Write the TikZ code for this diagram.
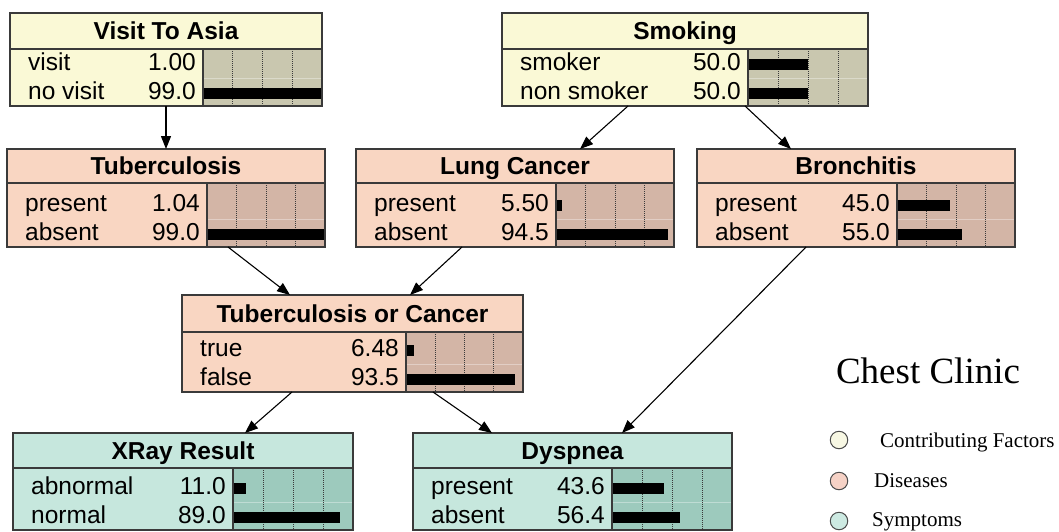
\documentclass[tikz,border=0pt]{standalone}
\usepackage{fontspec}
\setmainfont{Liberation Serif}
\newfontfamily\arialf{Liberation Sans}
\usetikzlibrary{arrows.meta}
\definecolor{cfFill}{HTML}{FAF9D6}
\definecolor{cfChart}{HTML}{C9C7AF}
\definecolor{disFill}{HTML}{F9D6C2}
\definecolor{disChart}{HTML}{D3B5A6}
\definecolor{symFill}{HTML}{C6E7DD}
\definecolor{symChart}{HTML}{9DCABD}
\definecolor{edgecol}{HTML}{3A3A3A}
\definecolor{cfLeg}{HTML}{F8F8E4}
\definecolor{disLeg}{HTML}{F6D2C6}
\definecolor{symLeg}{HTML}{CDEAE2}
\tikzset{
  boxframe/.style={draw=edgecol, line width=1.2pt, inner sep=0pt, outer sep=0pt},
  boxline/.style={draw=edgecol, line width=1.2pt},
  bngrid/.style={draw=edgecol, line width=0.6pt, dash pattern=on 1pt off 1pt},
  bnsep/.style={draw=white, opacity=0.35, line width=0.8pt},
  bnbar/.style={fill=black},
  titletext/.style={font=\arialf\bfseries\fontsize{24.5}{29}\selectfont, inner sep=0pt},
  rowtext/.style={font=\arialf\fontsize{24.5}{29}\selectfont, inner sep=0pt},
  bnconn/.style={draw=black, line width=1.1pt, -{Triangle[length=13pt,width=10pt]}},
  legcirc/.style={circle, draw=black!70, line width=1pt, minimum size=17.5pt, inner sep=0pt},
  legtext/.style={font=\fontsize{21}{24}\selectfont, inner sep=0pt, anchor=base west},
}
% name, L, R, T, H, B, C, kind
\newcommand\bnbox[8]{%
  \fill[#8Fill] (#2,#4) rectangle (#3,#6);
  \fill[#8Chart] (#7,#5) rectangle (#3,#6);
  \pgfmathsetmacro\bnWd{#3-#7}%
  \pgfmathsetmacro\bnMid{(#6-15+#6-44)/2+2}%
  \draw[bnsep] (#7,\bnMid) -- (#3,\bnMid);
  \foreach \f in {0.25,0.5,0.75} {\draw[bngrid] ({#7+\f*\bnWd},#5) -- ({#7+\f*\bnWd},#6);}
  \draw[boxline] (#2,#5) -- (#3,#5) (#7,#5) -- (#7,#6);
  \node[boxframe, minimum width={#3-#2}, minimum height={#6-#4}] (#1) at ({(#2+#3)/2},{(#4+#6)/2}) {};
  \xdef\bnL{#2}\xdef\bnR{#3}\xdef\bnT{#4}\xdef\bnH{#5}\xdef\bnB{#6}\xdef\bnC{#7}%
}
% name, title, l1, v1, p1, l2, v2, p2
\newcommand\bntext[8]{%
  \pgfmathsetmacro\rB{\bnB-15}%
  \pgfmathsetmacro\rA{\bnB-44}%
  \pgfmathsetmacro\bnWd{\bnR-\bnC}%
  \fill[bnbar] (\bnC,\rA-3) rectangle ({\bnC+#5*\bnWd/100},\rA+8);
  \fill[bnbar] (\bnC,\rB-3) rectangle ({\bnC+#8*\bnWd/100},\rB+8);
  \draw[boxline] (\bnC,\bnH) -- (\bnC,\bnB);
  \node[titletext, anchor=base] (#1-t) at ({(\bnL+\bnR)/2},{(\bnT+\bnH)/2+8.8}) {#2};
  \node[rowtext, anchor=base west] (#1-l1) at (\bnL+18,\rA+8.8) {#3};
  \node[rowtext, anchor=base east] (#1-v1) at (\bnC-7,\rA+8.8) {#4};
  \node[rowtext, anchor=base west] (#1-l2) at (\bnL+18,\rB+8.8) {#6};
  \node[rowtext, anchor=base east] (#1-v2) at (\bnC-7,\rB+8.8) {#7};
}
\begin{document}
\begin{tikzpicture}[x=1pt,y=-1pt]
\useasboundingbox (0,0) rectangle (1059,531);
\fill[white] (0,0) rectangle (1059,531);

\bnbox{visit}{10}{322}{13}{49}{106}{203}{cf}
\bntext{visit}{Visit To Asia}{visit}{1.00}{1}{no visit}{99.0}{99}
\bnbox{smoke}{502}{868}{13}{49}{106}{748}{cf}
\bntext{smoke}{Smoking}{smoker}{50.0}{50}{non smoker}{50.0}{50}
\bnbox{tub}{7}{325}{149}{183}{247}{207}{dis}
\bntext{tub}{Tuberculosis}{present}{1.04}{1.04}{absent}{99.0}{99}
\bnbox{lung}{356}{674}{149}{183}{247}{556}{dis}
\bntext{lung}{Lung Cancer}{present}{5.50}{5.5}{absent}{94.5}{94.5}
\bnbox{bron}{697}{1015}{149}{183}{247}{897}{dis}
\bntext{bron}{Bronchitis}{present}{45.0}{45}{absent}{55.0}{55}
\bnbox{toc}{182}{523}{295}{332}{392}{406}{dis}
\bntext{toc}{Tuberculosis or Cancer}{true}{6.48}{6.48}{false}{93.5}{93.5}
\bnbox{xray}{13}{353}{433}{468}{530}{233}{sym}
\bntext{xray}{XRay Result}{abnormal}{11.0}{11}{normal}{89.0}{89}
\bnbox{dysp}{413}{732}{433}{468}{530}{612}{sym}
\bntext{dysp}{Dyspnea}{present}{43.6}{43.6}{absent}{56.4}{56.4}

\draw[bnconn] (visit.south) -- (tub.north);
\draw[bnconn] ([xshift=126pt]smoke.south west) -- ([xshift=224pt]lung.north west);
\draw[bnconn] ([xshift=243pt]smoke.south west) -- ([xshift=94pt]bron.north west);
\draw[bnconn] ([xshift=221pt]tub.south west) -- ([xshift=108pt]toc.north west);
\draw[bnconn] ([xshift=106pt]lung.south west) -- ([xshift=228pt]toc.north west);
\draw[bnconn] ([xshift=110pt]toc.south west) -- ([xshift=232pt]xray.north west);
\draw[bnconn] ([xshift=251pt]toc.south west) -- ([xshift=79pt]dysp.north west);
\draw[bnconn] ([xshift=109pt]bron.south west) -- ([xshift=209pt]dysp.north west);

\node[anchor=base, inner sep=0pt, font=\fontsize{37}{40}\selectfont] (legtitle) at (928,383) {Chest Clinic};
\node[legcirc, fill=cfLeg] (lc1) at (839,440) {};
\node[legcirc, fill=disLeg] (lc2) at (839,481) {};
\node[legcirc, fill=symLeg] (lc3) at (839,521) {};
\node[legtext] (lt1) at (880,447) {Contributing Factors};
\node[legtext] (lt2) at (874,487) {Diseases};
\node[legtext] (lt3) at (872,526) {Symptoms};
\end{tikzpicture}
\end{document}
